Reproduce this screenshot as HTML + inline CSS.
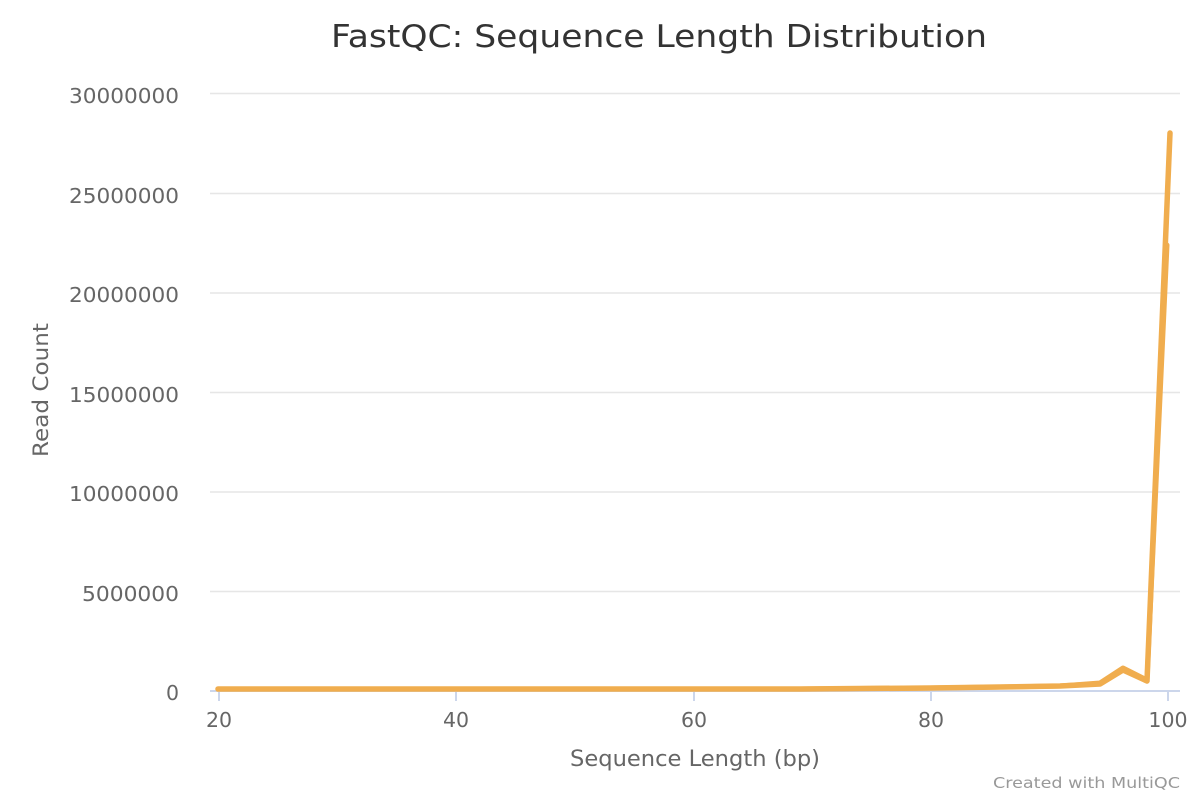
<!DOCTYPE html>
<html>
<head>
<meta charset="utf-8">
<style>
  html,body{margin:0;padding:0;background:#fff;}
  svg{display:block;}
  text{font-family:"DejaVu Sans","Liberation Sans",sans-serif;}
</style>
</head>
<body>
<svg width="1200" height="800" viewBox="0 0 1200 800" xmlns="http://www.w3.org/2000/svg">
  <rect width="1200" height="800" fill="#fff"/>
  <!-- title -->
  <text x="331" y="47" font-size="31" fill="#333" textLength="656" lengthAdjust="spacingAndGlyphs">FastQC: Sequence Length Distribution</text>

  <!-- gridlines -->
  <g stroke="#e6e6e6" stroke-width="1.5">
    <line x1="210" y1="93.5" x2="1180" y2="93.5"/>
    <line x1="210" y1="193.5" x2="1180" y2="193.5"/>
    <line x1="210" y1="293" x2="1180" y2="293"/>
    <line x1="210" y1="392.5" x2="1180" y2="392.5"/>
    <line x1="210" y1="492" x2="1180" y2="492"/>
    <line x1="210" y1="591.5" x2="1180" y2="591.5"/>
  </g>

  <!-- y labels -->
  <g font-size="20.5" fill="#666" text-anchor="end">
    <text x="179" y="103" textLength="110" lengthAdjust="spacingAndGlyphs">30000000</text>
    <text x="179" y="203" textLength="110" lengthAdjust="spacingAndGlyphs">25000000</text>
    <text x="179" y="302" textLength="110" lengthAdjust="spacingAndGlyphs">20000000</text>
    <text x="179" y="402" textLength="110" lengthAdjust="spacingAndGlyphs">15000000</text>
    <text x="179" y="501" textLength="110" lengthAdjust="spacingAndGlyphs">10000000</text>
    <text x="179" y="601" textLength="97" lengthAdjust="spacingAndGlyphs">5000000</text>
    <text x="179" y="700">0</text>
  </g>

  <!-- y title -->
  <text transform="translate(48,390) rotate(-90)" font-size="21" fill="#666" text-anchor="middle" textLength="134" lengthAdjust="spacingAndGlyphs">Read Count</text>

  <!-- x axis -->
  <line x1="210" y1="691" x2="1180" y2="691" stroke="#ccd6eb" stroke-width="2"/>
  <g stroke="#ccd6eb" stroke-width="2">
    <line x1="219" y1="691" x2="219" y2="701"/>
    <line x1="456" y1="691" x2="456" y2="701"/>
    <line x1="694" y1="691" x2="694" y2="701"/>
    <line x1="931" y1="691" x2="931" y2="701"/>
    <line x1="1168" y1="691" x2="1168" y2="701"/>
  </g>
  <g font-size="20.5" fill="#666" text-anchor="middle">
    <text x="219" y="727">20</text>
    <text x="456" y="727">40</text>
    <text x="694" y="727">60</text>
    <text x="931" y="727">80</text>
    <text x="1168" y="727">100</text>
  </g>
  <text x="695" y="766" font-size="22" fill="#666" text-anchor="middle" textLength="250" lengthAdjust="spacingAndGlyphs">Sequence Length (bp)</text>

  <!-- series -->
  <g fill="none" stroke="#f0ad4e" stroke-width="5" stroke-linejoin="round" stroke-linecap="round">
    <polyline points="218,689 400,689 600,689 800,689 930,688 1000,687 1060,686 1100,683 1123,668 1147,680 1167,245"/>
    <polyline stroke-width="5.5" points="218,689 400,689 600,689 800,689 930,688 1000,687 1060,686 1100,684 1123,670 1147,681 1170,133"/>
  </g>

  <!-- credits -->
  <text x="1180" y="788" font-size="15" fill="#999" text-anchor="end" textLength="187" lengthAdjust="spacingAndGlyphs">Created with MultiQC</text>
</svg>
</body>
</html>
